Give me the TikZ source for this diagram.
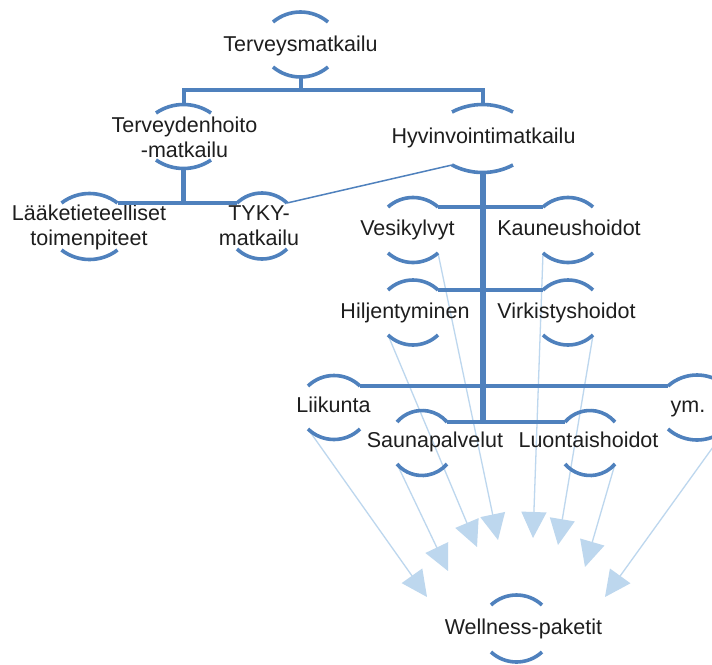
\documentclass[tikz,border=0pt]{standalone}
\usepackage{fontspec}
\setmainfont{Liberation Sans}
\usetikzlibrary{arrows.meta}
\definecolor{mainblue}{RGB}{79,129,189}
\definecolor{lightblue}{RGB}{189,215,238}
\definecolor{txt}{RGB}{30,30,30}
\pgfdeclarelayer{bg}
\pgfsetlayers{bg,main}
% #1 name, #2 arc centre x, #3 y of top-arc ends, #4 y of bottom-arc ends,
% #5 arc half width, #6 arc rise, #7 text x, #8 text baseline y (last line), #9 text
\newcommand\bnode[9]{%
  \pgfmathsetmacro\brR{((#5)*(#5)+(#6)*(#6))/(2*(#6))}%
  \pgfmathsetmacro\brA{asin((#5)/\brR)}%
  \coordinate (#1-tl) at ({#2-#5},#3);
  \coordinate (#1-tr) at ({#2+#5},#3);
  \coordinate (#1-bl) at ({#2-#5},#4);
  \coordinate (#1-br) at ({#2+#5},#4);
  \coordinate (#1-t) at (#2,{#3-#6});
  \coordinate (#1-b) at (#2,{#4+#6});
  \draw[arcline] (#1-tl) arc[start angle={90+\brA}, end angle={90-\brA}, radius=\brR pt];
  \draw[arcline] (#1-bl) arc[start angle={270-\brA}, end angle={270+\brA}, radius=\brR pt];
  \node[lbl] (#1) at (#7,#8) {#9};
}
\begin{document}
\begin{tikzpicture}[x=1pt,y=-1pt,
  arcline/.style={draw=mainblue,line width=3.6pt},
  bar/.style={draw=mainblue,line width=4pt},
  lbl/.style={font=\fontsize{21.5}{25}\selectfont,text=txt,inner sep=0pt,anchor=base,align=center},
  arr/.style={draw=lightblue,line width=1.3pt,-{Triangle[length=26pt,width=25pt]}},
  thinlink/.style={draw=mainblue,line width=1.5pt}]
\begin{pgfonlayer}{bg}
\fill[white] (0,0) rectangle (712,664);
\end{pgfonlayer}
\useasboundingbox (0,0) rectangle (712,664);

\bnode{terv}{300.5}{22}{67}{27.5}{10}{300.5}{51}{Terveysmatkailu}
\bnode{td}{183.5}{113}{160}{27.5}{8.5}{184.5}{157}{Terveydenhoito\\-matkailu}
\bnode{hyv}{482.5}{112}{165}{30.5}{7.5}{483.5}{143}{Hyvinvointimatkailu}
\bnode{lk}{89.5}{203}{250}{28}{9.5}{89}{245}{Lääketieteelliset\\toimenpiteet}
\bnode{ty}{262}{203}{249}{25}{10}{259}{245}{TYKY-\\matkailu}
\bnode{vesi}{413}{207}{253}{25}{9.5}{407.5}{235}{Vesikylvyt}
\bnode{kaun}{568}{207}{253}{25}{9.5}{569}{235}{Kauneushoidot}
\bnode{hilj}{413}{290}{335}{25}{10}{405}{318}{Hiljentyminen}
\bnode{virk}{568}{290}{335}{25}{10}{566.5}{318}{Virkistyshoidot}
\bnode{liik}{334}{386}{429}{26}{10.5}{333.5}{412}{Liikunta}
\bnode{ym}{697}{386}{429}{29}{11}{688}{412}{ym.}
\bnode{sauna}{422}{422}{464}{25}{11.5}{435}{447}{Saunapalvelut}
\bnode{luon}{590}{422}{464}{25}{11.5}{588.5}{447}{Luontaishoidot}
\bnode{well}{516.5}{605}{652}{25.5}{10}{523.5}{634}{Wellness-paketit}

% tree structure
\coordinate (j1) at (300.5,90);
\draw[bar] (terv-b) -- (j1);
\draw[bar] (td-t) -- (td-t |- j1) -- (hyv-t |- j1) -- (hyv-t);
\draw[bar,line width=4.5pt] (td-b) -- (td-b |- lk-tr);
\draw[bar] (lk-tr) -- (ty-tl);
\draw[thinlink] (ty-tr) -- (hyv-bl);
\draw[bar] (vesi-tr) -- (kaun-tl);
\draw[bar] (hilj-tr) -- (virk-tl);
\draw[bar] (liik-tr) -- (ym-tl);
\draw[bar] (sauna-tr) -- (luon-tl);
\draw[bar,line width=6pt] (hyv-b) -- (hyv-b |- sauna-tr);

% arrows to Wellness-paketit
\coordinate (w1) at (427,597);
\coordinate (w2) at (448,571);
\coordinate (w3) at (477,547);
\coordinate (w4) at (498,540);
\coordinate (w5) at (533,538);
\coordinate (w6) at (558,545);
\coordinate (w7) at (585,567);
\coordinate (w8) at (605,597);
\begin{pgfonlayer}{bg}
\draw[arr] (liik-bl) -- (w1);
\draw[arr] (sauna-bl) -- (w2);
\draw[arr] (hilj-bl) -- (w3);
\draw[arr] (vesi-br) -- (w4);
\draw[arr] (kaun-bl) -- (w5);
\draw[arr] (virk-br) -- (w6);
\draw[arr] (luon-br) -- (w7);
\draw[arr] (ym-br) -- (w8);
\end{pgfonlayer}
\end{tikzpicture}
\end{document}
